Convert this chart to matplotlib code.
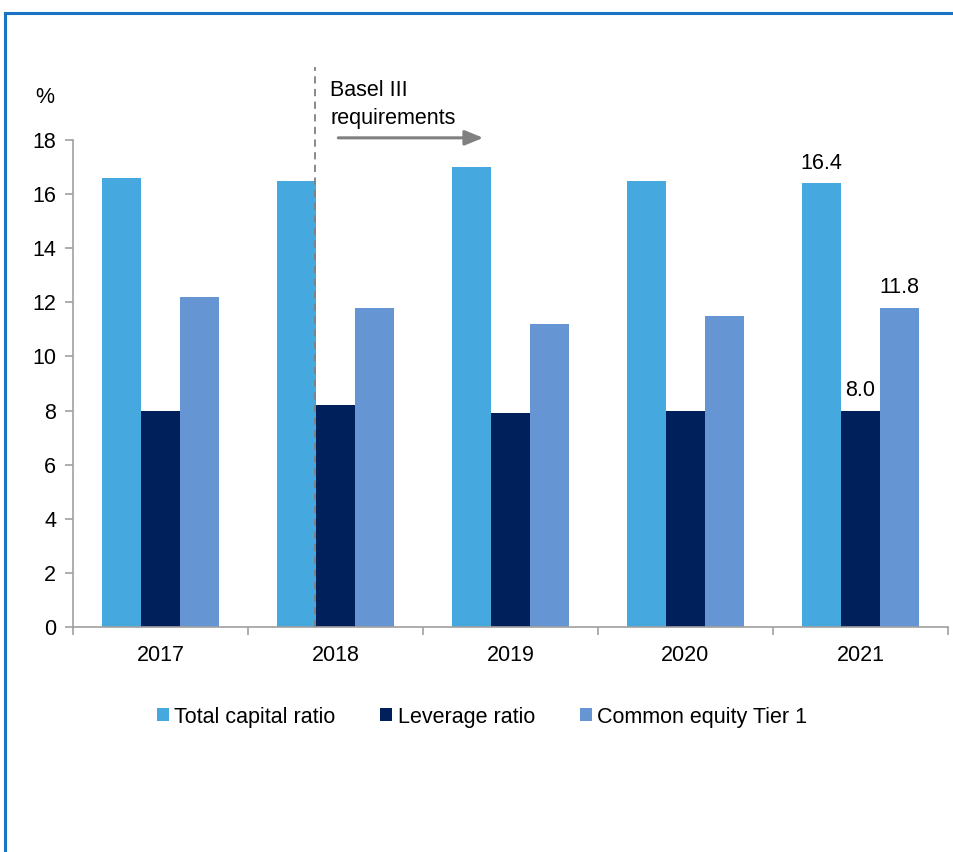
import numpy as np
import matplotlib
matplotlib.use("Agg")
import matplotlib.pyplot as plt
from matplotlib.lines import Line2D

plt.rcParams["font.family"] = ["Liberation Sans", "DejaVu Sans"]

years = ["2017", "2018", "2019", "2020", "2021"]
total_capital = [16.6, 16.5, 17.0, 16.5, 16.4]
leverage = [8.0, 8.2, 7.9, 8.0, 8.0]
cet1 = [12.2, 11.8, 11.2, 11.5, 11.8]
series_names = ["Total capital ratio", "Leverage ratio", "Common equity Tier 1"]
colors = ["#45a8df", "#00205b", "#6695d3"]

fs = 15.5

fig = plt.figure(figsize=(9.54, 8.52), dpi=100)
ax = fig.add_axes([73 / 954, 1 - 627 / 852, (948 - 73) / 954, (627 - 140) / 852])

x = np.arange(len(years))
w = 0.222
for i, (vals, name, c) in enumerate(zip([total_capital, leverage, cet1], series_names, colors)):
    ax.bar(x + (i - 1) * w, vals, width=w, color=c, label=name, zorder=2)

# labels on last year
last = len(years) - 1
for i, vals in enumerate([total_capital, leverage, cet1]):
    ax.text(last + (i - 1) * w, vals[last] + 0.35, f"{vals[last]:.1f}",
            ha="center", va="bottom", fontsize=fs)

ax.set_xlim(-0.5, len(years) - 0.5)
ax.set_ylim(0, 18)
ax.set_yticks(range(0, 19, 2))
ax.set_xticks(x)
ax.set_xticklabels(years)
ax.set_xticks(np.arange(-0.5, len(years)), minor=True)
ax.tick_params(axis="x", which="major", length=0, pad=13, labelsize=fs)
ax.tick_params(axis="x", which="minor", length=6, color="#a0a0a0", width=1.2)
ax.tick_params(axis="y", length=6, color="#a0a0a0", width=1.2, labelsize=fs, pad=6)
for s in ["top", "right"]:
    ax.spines[s].set_visible(False)
for s in ["left", "bottom"]:
    ax.spines[s].set_color("#a0a0a0")
    ax.spines[s].set_linewidth(1.2)

# Basel III marker
ax.plot([0.88, 0.88], [0, 20.7], ls=(0, (4, 3)), color="#808080", lw=1.3,
        clip_on=False, zorder=3)
ax.text(0.97, 18.4, "Basel III\nrequirements", fontsize=fs, ha="left", va="bottom",
        linespacing=1.45)
ax.annotate("", xy=(1.86, 18.08), xytext=(1.0, 18.08),
            arrowprops=dict(arrowstyle="-|>,head_length=1.1,head_width=0.45",
                            color="#808080", lw=2.2), annotation_clip=False)
ax.text(-0.66, 19.2, "%", fontsize=fs, ha="center", va="bottom")

leg = fig.legend(loc="center", bbox_to_anchor=(482 / 954, 1 - 717 / 852), ncol=3,
                 frameon=False, fontsize=fs, handlelength=0.55, handleheight=0.55,
                 handletextpad=0.25, columnspacing=2.1)

# frame lines
fig.add_artist(Line2D([5 / 954, 1], [1 - 13 / 852] * 2, color="#1a72c2", lw=2.2))
fig.add_artist(Line2D([5 / 954] * 2, [0, 1 - 13 / 852], color="#1a72c2", lw=2.2))

plt.savefig("out.png", dpi=100)
